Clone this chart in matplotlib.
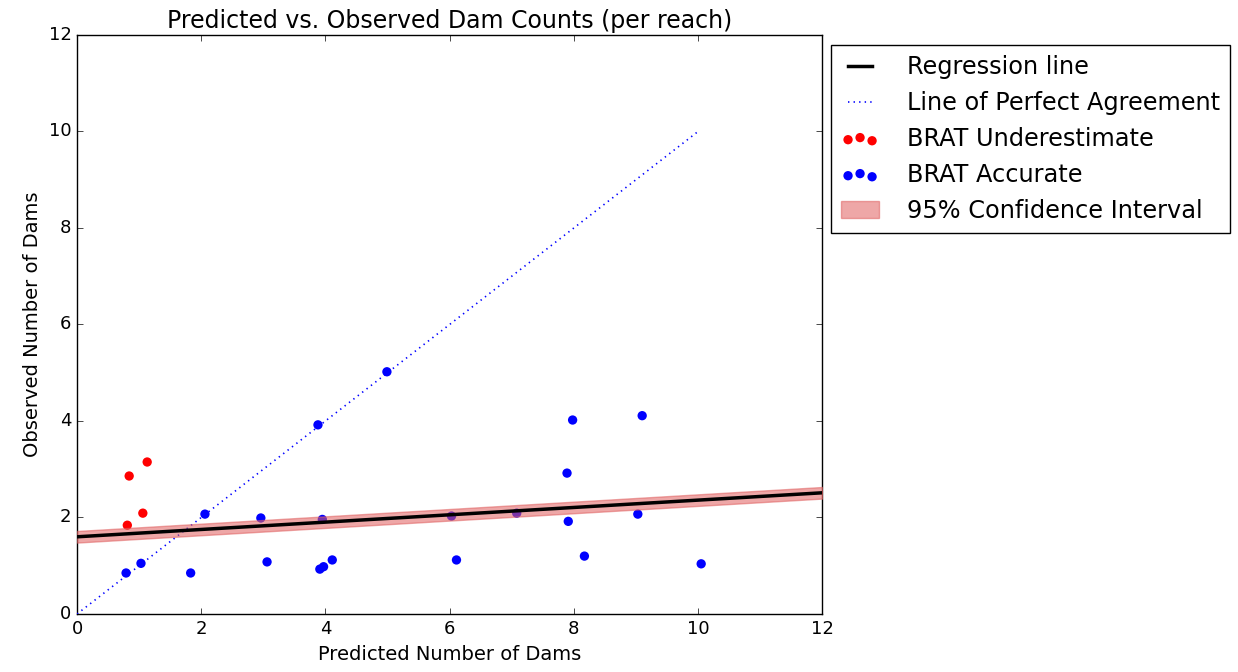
import numpy as np
import matplotlib
matplotlib.use("Agg")
import matplotlib.pyplot as plt

# =========================================================
# DATA
# =========================================================
under_pred = [0.81, 0.84, 1.06, 1.13]
under_obs = [1.84, 2.86, 2.09, 3.15]

acc_pred = [0.79, 1.03, 1.83, 2.06, 2.96, 3.06, 3.88, 3.91, 3.97, 4.11, 3.95,
            4.99, 6.03, 6.11, 7.08, 7.89, 7.98, 7.91, 8.17, 9.03, 9.10, 10.05]
acc_obs = [0.85, 1.05, 0.85, 2.07, 1.99, 1.08, 3.92, 0.93, 0.98, 1.12, 1.96,
           5.02, 2.03, 1.12, 2.09, 2.92, 4.02, 1.92, 1.20, 2.07, 4.11, 1.04]

reg_intercept = 1.60
reg_slope = 0.076
ci_half = 0.12
reg_x = [0, 12]
perfect_x = [0, 10]

# =========================================================
# PLOT
# =========================================================
plt.style.use("classic")
fig = plt.figure(figsize=(12.38, 6.72), dpi=100, facecolor="white")
ax = fig.add_axes([0.0622, 0.0863, 0.602, 0.8617])

xs = np.array(reg_x, dtype=float)
ys = reg_intercept + reg_slope * xs

ax.plot(xs, ys, color="black", linewidth=2.5, label="Regression line", zorder=4)
ax.plot(perfect_x, perfect_x, color="blue", linestyle=":", linewidth=1.2,
        label="Line of Perfect Agreement", zorder=3)
ax.scatter(under_pred, under_obs, s=45, color="red", edgecolors="none",
           label="BRAT Underestimate", zorder=2)
ax.scatter(acc_pred, acc_obs, s=45, color="blue", edgecolors="none",
           label="BRAT Accurate", zorder=2)
ax.fill_between(xs, ys - ci_half, ys + ci_half, color="#e06060", alpha=0.55,
                label="95% Confidence Interval", zorder=3)

ax.set_xlim(0, 12)
ax.set_ylim(0, 12)
ax.set_xticks(range(0, 13, 2))
ax.set_yticks(range(0, 13, 2))
ax.tick_params(labelsize=13)

ax.set_title("Predicted vs. Observed Dam Counts (per reach)", fontsize=17)
ax.set_xlabel("Predicted Number of Dams", fontsize=14)
ax.set_ylabel("Observed Number of Dams", fontsize=14)

ax.legend(loc="upper left", bbox_to_anchor=(1.012, 0.982), fontsize=17.3,
          scatterpoints=3, borderaxespad=0, handlelength=1.6,
          handletextpad=1.15)

fig.savefig("out.png", dpi=100, facecolor="white")
